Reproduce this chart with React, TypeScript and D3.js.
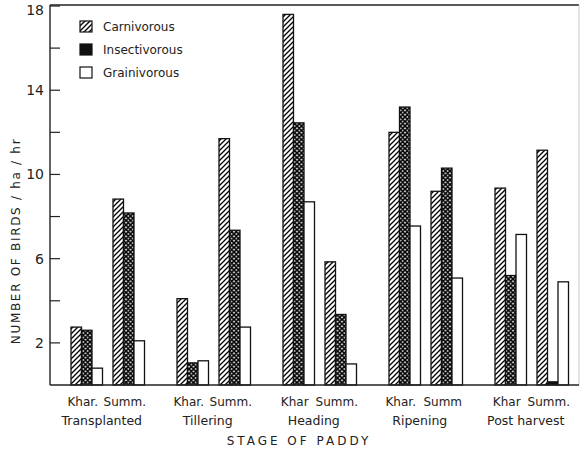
import React from "react";
import * as d3 from "d3";

const stages = ["Transplanted", "Tillering", "Heading", "Ripening", "Post harvest"];
const seasons = ["Khar", "Summ"];
const seasonLabels = [
  ["Khar.", "Summ."],
  ["Khar.", "Summ."],
  ["Khar", "Summ."],
  ["Khar.", "Summ"],
  ["Khar", "Summ."],
];
const groups = ["Carnivorous", "Insectivorous", "Grainivorous"];
// order: stage x season (Khar, Summ)
const carnivorous = [2.75, 8.83, 4.1, 11.7, 17.6, 5.85, 12.0, 9.2, 9.35, 11.15];
const insectivorous = [2.6, 8.17, 1.05, 7.35, 12.45, 3.35, 13.2, 10.3, 5.2, 0.15];
const grainivorous = [0.8, 2.1, 1.15, 2.75, 8.7, 1.0, 7.55, 5.08, 7.15, 4.9];
const majorTicks = [2, 6, 10, 14, 18];
const minorTicks = [4, 8, 12, 16];

const W = 581;
const H = 455;
const FONT = "'DejaVu Sans', sans-serif";

export default function App() {
  const left = 50;
  const right = 579;
  const top = 5;
  const y = d3.scaleLinear().domain([0, 18]).range([385, 6]);
  const x0 = d3.scaleBand<string>().domain(stages).range([71, 568.5]).paddingInner(1 - 73.5 / 106).paddingOuter(0);
  const x1 = d3.scaleBand<string>().domain(seasons).range([0, x0.bandwidth()]).paddingInner(0.25).paddingOuter(0);
  const x2 = d3.scaleBand<string>().domain(groups).range([0, x1.bandwidth()]).padding(0);
  const series = [carnivorous, insectivorous, grainivorous];
  const fills = ["url(#hatch)", "url(#cross)", "#fff"];

  const bars: React.ReactElement[] = [];
  stages.forEach((st, si) => {
    seasons.forEach((se, ki) => {
      groups.forEach((g, gi) => {
        const v = series[gi][si * 2 + ki];
        const bx = (x0(st) as number) + (x1(se) as number) + (x2(g) as number);
        const isTiny = v < 0.5;
        bars.push(
          <rect
            key={`${st}-${se}-${g}`}
            x={bx}
            y={y(v)}
            width={x2.bandwidth()}
            height={y(0) - y(v)}
            fill={isTiny && gi === 1 ? "#111" : fills[gi]}
            stroke="#111"
            strokeWidth={1.3}
          />
        );
      });
    });
  });

  return (
    <svg width={W} height={H} style={{ position: "absolute", left: 0, top: 0, background: "#fff" }} fontFamily={FONT}>
      <defs>
        <pattern id="hatch" patternUnits="userSpaceOnUse" width={5} height={5}>
          <rect width={5} height={5} fill="#fff" />
          <path d="M-1,1 l2,-2 M0,5 l5,-5 M4,6 l2,-2" stroke="#000" strokeWidth={1.3} />
        </pattern>
        <pattern id="cross" patternUnits="userSpaceOnUse" width={4.5} height={4.5}>
          <rect width={4.5} height={4.5} fill="#fff" />
          <path
            d="M-1,1 l2,-2 M0,4.5 l4.5,-4.5 M3.5,5.5 l2,-2 M-1,3.5 l2,2 M0,0 l4.5,4.5 M3.5,-1 l2,2"
            stroke="#000"
            strokeWidth={1.7}
          />
        </pattern>
      </defs>

      {/* frame */}
      <line x1={left} x2={right} y1={top} y2={top} stroke="#222" strokeWidth={1.3} />
      <line x1={right} x2={right} y1={top} y2={y(0)} stroke="#bbb" strokeWidth={0.8} />
      <line x1={left} x2={left} y1={top} y2={y(0)} stroke="#222" strokeWidth={1.4} />

      {bars}

      <line x1={left} x2={right} y1={y(0)} y2={y(0)} stroke="#222" strokeWidth={1.4} />

      {/* y ticks */}
      {majorTicks.map((t) => (
        <g key={`M${t}`}>
          <line x1={left} x2={left + 10} y1={y(t)} y2={y(t)} stroke="#222" strokeWidth={1.2} />
          <text x={44} y={Math.max(y(t), 10)} dy="0.35em" textAnchor="end" fontSize={14} fill="#222">
            {t}
          </text>
        </g>
      ))}
      {minorTicks.map((t) => (
        <line key={`m${t}`} x1={left} x2={left + 10} y1={y(t)} y2={y(t)} stroke="#222" strokeWidth={1.2} />
      ))}

      {/* x labels */}
      {stages.map((st, si) => (
        <g key={`lab-${st}`}>
          {seasons.map((se, ki) => (
            <text
              key={se}
              x={(x0(st) as number) + (x1(se) as number) + x1.bandwidth() / 2 - 4}
              y={406}
              textAnchor="middle"
              fontSize={12}
              fill="#222"
            >
              {seasonLabels[si][ki]}
            </text>
          ))}
          <text x={(x0(st) as number) + x0.bandwidth() / 2 - 6} y={425} textAnchor="middle" fontSize={12.5} fill="#222">
            {st}
          </text>
        </g>
      ))}
      <text x={299} y={445} textAnchor="middle" fontSize={12} letterSpacing={3} fill="#222">
        STAGE OF PADDY
      </text>

      {/* y title */}
      <text
        transform={`translate(20, 241) rotate(-90)`}
        textAnchor="middle"
        fontSize={12}
        letterSpacing={1.7}
        fill="#222"
      >
        NUMBER OF BIRDS / ha / hr
      </text>

      {/* legend */}
      {groups.map((g, i) => (
        <g key={`leg-${g}`} transform={`translate(80, ${21 + i * 23})`}>
          <rect width={12} height={11} fill={i === 1 ? "#111" : fills[i]} stroke="#111" strokeWidth={1.2} />
          <text x={23} y={5.5} dy="0.35em" fontSize={12} fill="#222">
            {g}
          </text>
        </g>
      ))}
    </svg>
  );
}
